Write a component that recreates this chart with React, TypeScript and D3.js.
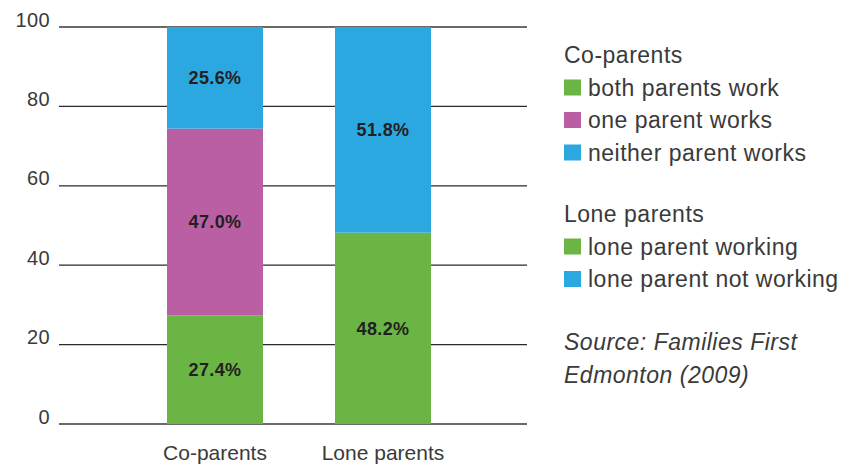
import React from "react";
import * as d3 from "d3";

const categories = ["Co-parents", "Lone parents"];
// stacked segments bottom -> top
const coParentValues = [27.4, 47.0, 25.6];
const coParentColors = ["#6BB545", "#BB5FA5", "#2BA8E0"];
const loneParentValues = [48.2, 51.8];
const loneParentColors = ["#6BB545", "#2BA8E0"];
const yTicks = [0, 20, 40, 60, 80, 100];

const coLegendTitle = "Co-parents";
const coLegendLabels = ["both parents work", "one parent works", "neither parent works"];
const loneLegendTitle = "Lone parents";
const loneLegendLabels = ["lone parent working", "lone parent not working"];
const sourceLines = ["Source: Families First", "Edmonton (2009)"];

const FONT = "'Liberation Sans', Arial, Helvetica, sans-serif";
const TEXT = "#3a3a3a";

export default function App() {
  const W = 852, H = 466;
  const y = d3.scaleLinear().domain([0, 100]).range([424, 27]);
  const x = d3.scaleBand<string>().domain(categories).range([131, 467])
    .paddingInner(3 / 7).paddingOuter(1.5 / 7);
  const gridX0 = 59, gridX1 = 527;

  const seriesPerCat = [
    { cat: categories[0], values: coParentValues, colors: coParentColors },
    { cat: categories[1], values: loneParentValues, colors: loneParentColors },
  ];

  const bars: any[] = [];
  seriesPerCat.forEach((s) => {
    let acc = 0;
    s.values.forEach((v, i) => {
      bars.push({ cat: s.cat, y0: acc, y1: acc + v, v, color: s.colors[i] });
      acc += v;
    });
  });

  const legendX = 564;
  const rowH = 32.5;
  const LFS = 23;

  const renderLegend = (title: string, labels: string[], colors: string[], baseY: number) => (
    <g>
      <text x={legendX} y={baseY} fontSize={LFS} letterSpacing={0.5} fill={TEXT} fontFamily={FONT}>{title}</text>
      {labels.map((l, i) => (
        <g key={l}>
          <rect x={legendX} y={baseY + rowH * (i + 1) - 16} width={17} height={16} fill={colors[i]} />
          <text x={legendX + 24} y={baseY + rowH * (i + 1)} fontSize={LFS} letterSpacing={0.5} fill={TEXT} fontFamily={FONT}>{l}</text>
        </g>
      ))}
    </g>
  );

  return (
    <svg width={W} height={H} style={{ position: "absolute", left: 0, top: 0, background: "#fff" }}>
      {yTicks.map((t) => {
        const edge = t === 0 || t === 100;
        return (
          <g key={t}>
            <line x1={gridX0} x2={gridX1} y1={y(t)} y2={y(t)} stroke={edge ? "#6a6a6a" : "#2a2a2a"} strokeWidth={edge ? 2 : 1.3} />
            <text x={50} y={y(t) - 0.5} textAnchor="end" fontSize={20} letterSpacing={0.4} fill={TEXT} fontFamily={FONT}>{t}</text>
          </g>
        );
      })}
      {bars.map((b, i) => (
        <g key={i}>
          <rect x={x(b.cat)} y={y(b.y1)} width={x.bandwidth()} height={y(b.y0) - y(b.y1)} fill={b.color} />
          <text x={(x(b.cat) as number) + x.bandwidth() / 2} y={(y(b.y0) + y(b.y1)) / 2} dy="0.36em" textAnchor="middle"
            fontSize={18} letterSpacing={0.4} fontWeight="bold" fill="#231F20" fontFamily={FONT}>{b.v.toFixed(1)}%</text>
        </g>
      ))}
      {categories.map((c) => (
        <text key={c} x={(x(c) as number) + x.bandwidth() / 2} y={460} textAnchor="middle" fontSize={21} fill={TEXT} fontFamily={FONT}>{c}</text>
      ))}
      {renderLegend(coLegendTitle, coLegendLabels, coParentColors, 63)}
      {renderLegend(loneLegendTitle, loneLegendLabels, loneParentColors, 222)}
      {sourceLines.map((s, i) => (
        <text key={s} x={legendX} y={350 + i * 33} fontSize={LFS} letterSpacing={0.5} fontStyle="italic" fill={TEXT} fontFamily={FONT}>{s}</text>
      ))}
    </svg>
  );
}
